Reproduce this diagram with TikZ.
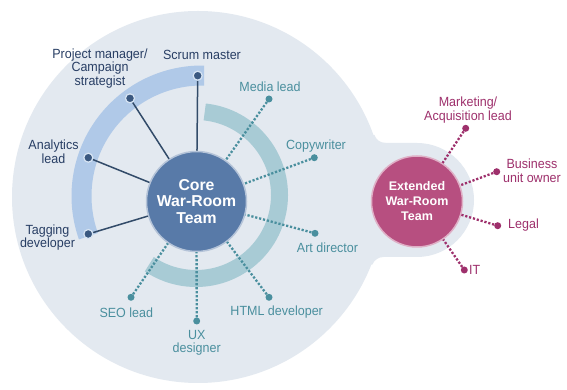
\documentclass[tikz,border=0pt]{standalone}
\usepackage{fontspec}
\setmainfont{Liberation Sans}
\newfontfamily\labfont[FakeStretch=0.94]{Liberation Sans}

\definecolor{bgcol}{RGB}{227,233,240}
\definecolor{ringblue}{RGB}{176,201,232}
\definecolor{ringteal}{RGB}{168,203,213}
\definecolor{corecol}{RGB}{88,122,168}
\definecolor{dotblue}{RGB}{58,88,128}
\definecolor{lineblue}{RGB}{50,75,105}
\definecolor{txtblue}{RGB}{40,62,100}
\definecolor{tealcol}{RGB}{74,143,158}
\definecolor{extcol}{RGB}{183,79,128}
\definecolor{magcol}{RGB}{158,48,108}

\tikzset{
  bdot/.style={circle, fill=dotblue, draw=ringblue!50!white, line width=1.2, inner sep=0, minimum size=9},
  tdot/.style={circle, fill=tealcol, inner sep=0, minimum size=7},
  mdot/.style={circle, fill=magcol, inner sep=0, minimum size=7},
  blab/.style={text=txtblue, font=\labfont\fontsize{13.3}{13.4}\selectfont, align=center, inner sep=0},
  tlab/.style={blab, text=tealcol},
  mlab/.style={blab, text=magcol},
  solidln/.style={lineblue, line width=1.5},
  dotln/.style={line width=2.3, dash pattern=on 2.2 off 1.8},
}

\begin{document}
\begin{tikzpicture}[x=1pt,y=1pt]
  \useasboundingbox (0,0) rectangle (567,390);
  \fill[white] (0,0) rectangle (567,390);

  % background disc and the band out to the extended team
  \fill[bgcol] (198,193) circle (186);
  \fill[bgcol] (330,247) -- (417,247) arc[start angle=90, end angle=-90, radius=57] -- (330,133) -- cycle;
  \fill[bgcol] (368,247) -- (385.7,247) arc[start angle=270, end angle=199.4, radius=12] -- (368,255) -- cycle;
  \fill[bgcol] (368,133) -- (383.5,133) arc[start angle=90, end angle=158.8, radius=12] -- (368,125.3) -- cycle;

  % rings
  \draw[ringblue, line width=20] (202,194) ++(89:120.5) arc[start angle=89, end angle=199.5, radius=120.5];
  \draw[ringteal, line width=17] (196,195) ++(84:83.5) arc[start angle=84, end angle=-124, radius=83.5];

  % teams
  \node[circle, minimum size=100, fill=corecol, draw=white!55!corecol, line width=1.5, text=white,
        font=\bfseries\fontsize{15.8}{16.5}\selectfont, align=center] (core) at (196.5,188.5) {Core\\War-Room\\Team};
  \node[circle, minimum size=91, fill=extcol, draw=white!55!extcol, line width=1.5, text=white,
        font=\bfseries\fontsize{12.5}{15}\selectfont, align=center] (ext) at (417,188.5) {Extended\\War-Room\\Team};

  % core roles
  \node[bdot] (scrum) at (197.7,314.3) {};
  \node[bdot] (pm) at (130,291.7) {};
  \node[bdot] (analytics) at (88.3,232.3) {};
  \node[bdot] (tagging) at (88.3,156) {};
  \node[blab] (scrumlab) at (202,335) {Scrum master};
  \node[blab] (pmlab) at (100,321.5) {Project manager/\\Campaign\\strategist};
  \node[blab] (analyticslab) at (53.5,238.3) {Analytics\\lead};
  \node[blab] (tagginglab) at (47.5,152.5) {Tagging\\developer};

  % dotted roles
  \node[tdot] (media) at (269,291) {};
  \node[tdot] (copy) at (314.3,232.3) {};
  \node[tdot] (art) at (315,156.7) {};
  \node[tdot] (html) at (269,92.7) {};
  \node[tdot] (ux) at (196.7,69) {};
  \node[tdot] (seo) at (131,92.7) {};
  \node[tlab] (medialab) at (270,303) {Media lead};
  \node[tlab] (copylab) at (316,244.3) {Copywriter};
  \node[tlab] (artlab) at (327.5,142) {Art director};
  \node[tlab] (htmllab) at (276.7,78.3) {HTML developer};
  \node[tlab] (uxlab) at (196.7,47.3) {UX\\designer};
  \node[tlab] (seolab) at (126.3,77.3) {SEO lead};

  % extended roles
  \node[mdot] (mkt) at (465.7,261.7) {};
  \node[mdot] (biz) at (496.7,218.3) {};
  \node[mdot] (legal) at (497.7,164.3) {};
  \node[mdot] (it) at (464.3,120) {};
  \node[mlab] (mktlab) at (468,280) {Marketing/\\Acquisition lead};
  \node[mlab] (bizlab) at (532,219.3) {Business\\unit owner};
  \node[mlab, anchor=west] (legallab) at (508,165) {Legal};
  \node[mlab, anchor=west] (itlab) at (469,120) {IT};

  \foreach \n in {scrum,pm,analytics,tagging} \draw[solidln] (\n) -- (core);
  \foreach \n in {media,copy,art,html,ux,seo} \draw[dotln, tealcol] (\n) -- (core);
  \foreach \n in {mkt,biz,legal,it} \draw[dotln, magcol] (\n) -- (ext);
\end{tikzpicture}
\end{document}
